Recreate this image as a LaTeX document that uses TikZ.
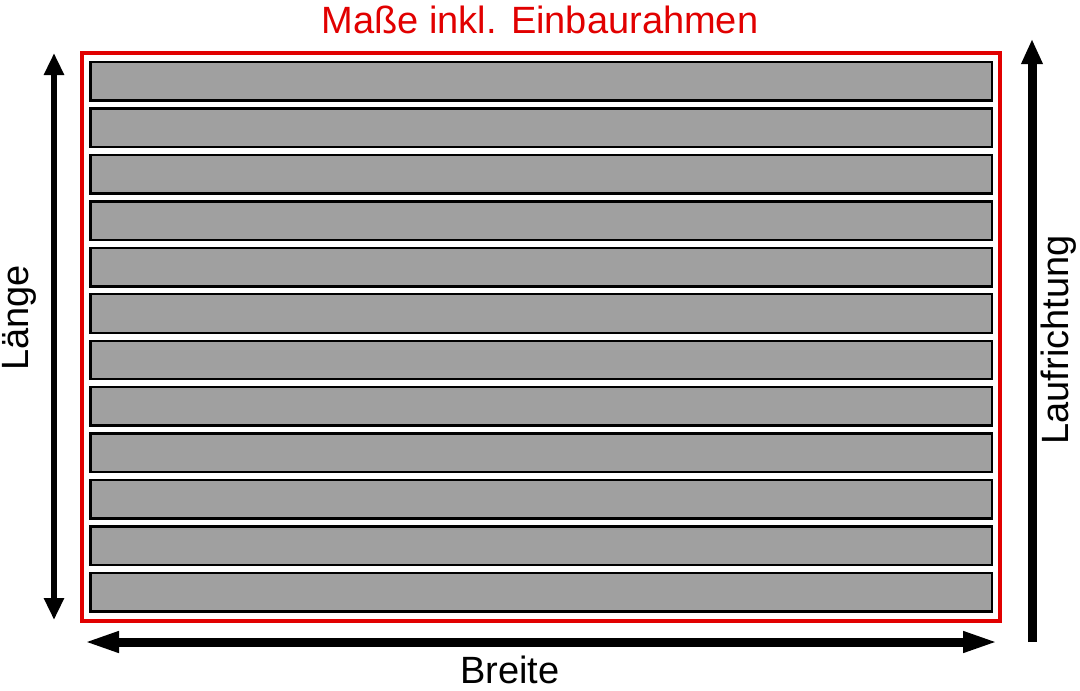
\documentclass[tikz,border=0pt]{standalone}
\usepackage{fontspec}
\setmainfont{Liberation Sans}
\usetikzlibrary{arrows.meta}
\definecolor{framered}{RGB}{225,0,0}
\definecolor{stripgray}{RGB}{160,160,160}

\begin{document}
\begin{tikzpicture}[x=1pt, y=-1pt,
        strip/.style={draw=black, line width=2.4pt, fill=stripgray},
        dimlabel/.style={font=\fontsize{38}{46}\selectfont, inner sep=0pt, anchor=base}]
    \useasboundingbox (0,0) rectangle (1080,691);

    % frame incl. mounting
    \draw[framered, line width=3.5pt] (82,53) rectangle (1000,621);
    \foreach \i in {0,...,11}
        \draw[strip] (90.5, 62+46.45*\i) rectangle (992, 100.5+46.45*\i);

    \coordinate (lt) at (54, 53);
    \coordinate (lb) at (54, 620);
    \coordinate (bl) at (83, 642);
    \coordinate (br) at (999, 642);
    \coordinate (rb) at (1032, 642);
    \coordinate (rt) at (1032, 39);

    \node[dimlabel, text=framered] (title) at (540, 33) {Maße inkl. Einbaurahmen};
    \node[dimlabel] (breite) at (510, 683) {Breite};
    \node[dimlabel, rotate=90] (laenge) at (28, 318) {Länge};
    \node[dimlabel, rotate=90] (lauf) at (1068, 340) {Laufrichtung};

    \draw[line width=6.5pt, {Triangle[length=22pt, width=19pt]}-{Triangle[length=22pt, width=19pt]}] (lt) -- (lb);
    \draw[line width=9pt, {Triangle[length=36pt, width=19pt]}-{Triangle[length=36pt, width=19pt]}] (bl) -- (br);
    \draw[line width=9pt, -{Triangle[length=25pt, width=20pt]}] (rb) -- (rt);
\end{tikzpicture}
\end{document}
